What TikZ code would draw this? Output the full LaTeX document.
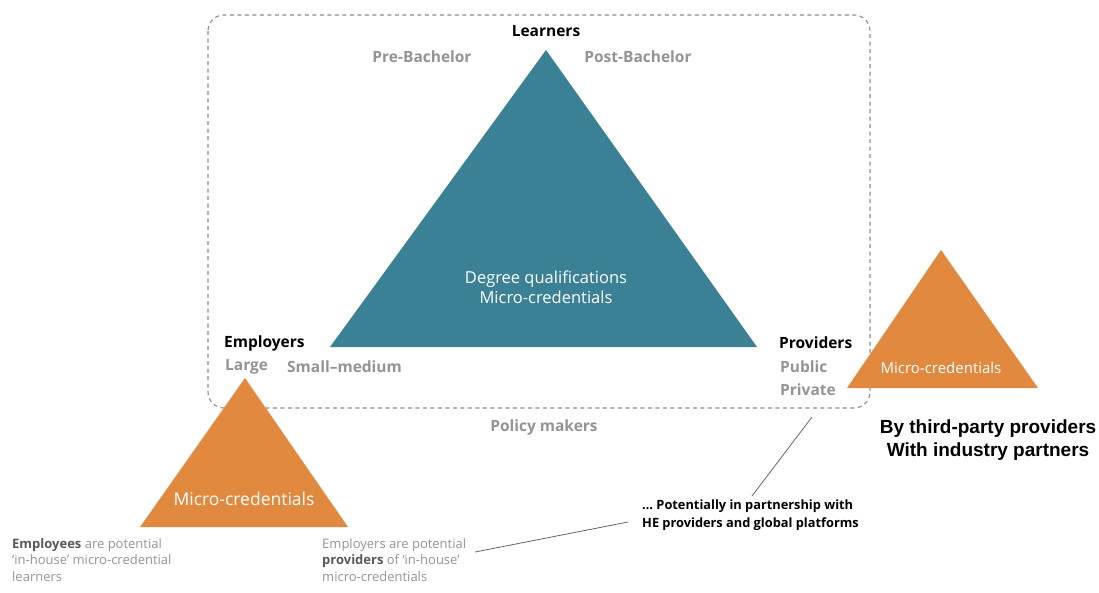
\documentclass[tikz,border=0pt]{standalone}
\usepackage{fontspec}
\setmainfont{Open Sans}
\newfontfamily\arialbold{Liberation Sans}[BoldFont={* Bold}]
\usetikzlibrary{positioning}
\begin{document}
\begin{tikzpicture}[x=1pt,y=-1pt]
% Colors
\colorlet{tealcolor}{rgb,255:red,59;green,129;blue,150}
\colorlet{orangecolor}{rgb,255:red,224;green,137;blue,63}
\colorlet{greytext}{black!42}
\colorlet{boxcolor}{black!45}
% Styles
\tikzstyle{head}=[font=\fontsize{15.5}{18}\selectfont\bfseries,text=black,inner sep=0pt]
\tikzstyle{sub}=[font=\fontsize{15.5}{18}\selectfont\bfseries,text=greytext,inner sep=0pt]
\tikzstyle{inside}=[font=\fontsize{16.5}{20}\selectfont,text=white,align=center,inner sep=0pt]
\tikzstyle{note}=[font=\fontsize{13}{16.5}\selectfont,text=greytext,align=left,inner sep=0pt,anchor=north west]
\tikzstyle{link}=[draw=black!60,line width=0.8pt]
\useasboundingbox (0,0) rectangle (1099,592);
% The frame
\draw[boxcolor,line width=1.1pt,dash pattern=on 4pt off 3.5pt,rounded corners=16pt]
  (208,15) rectangle (870,408);
% The triangles
\fill[tealcolor] (546,50) -- (757,347) -- (330,347) -- cycle;
\fill[orangecolor] (245,378) -- (348,527) -- (140,527) -- cycle;
\fill[orangecolor] (941,250) -- (1038,388) -- (847,388) -- cycle;
% Labels round the big triangle
\node[head] (learners) at (546,31) {Learners};
\node[sub] (prebach) at (422,57) {Pre-Bachelor};
\node[sub] (postbach) at (638,57) {Post-Bachelor};
\node[inside] (degree) at (546,287) {Degree qualifications\\Micro-credentials};
\node[head,anchor=west] (employers) at (224,343) {Employers};
\node[sub,anchor=west] (large) at (225,367) {Large};
\node[sub,anchor=west] (smallmed) at (287,367) {Small--medium};
\node[head,anchor=west] (providers) at (779,343) {Providers};
\node[sub,anchor=west] (public) at (780,367) {Public};
\node[sub,anchor=west] (private) at (780,390) {Private};
\node[sub] (policy) at (544,427) {Policy makers};
% Orange triangles
\node[inside,font=\fontsize{17.5}{20}\selectfont] (leftmc) at (244,499) {Micro-credentials};
\node[inside,font=\fontsize{15}{18}\selectfont] (rightmc) at (941,368) {Micro-credentials};
\node[font=\fontsize{19}{23}\selectfont\arialbold\bfseries,align=center,inner sep=0pt] (thirdparty)
  at (988,440) {By third-party providers\\With industry partners};
% Notes
\node[note] (employees) at (12,538) {\textbf{\color{black!65}Employees} are potential\\`in-house' micro-credential\\learners};
\node[note] (empprov) at (322,538) {Employers are potential\\\textbf{\color{black!65}providers} of `in-house'\\micro-credentials};
\node[font=\fontsize{12.8}{18}\selectfont\bfseries,align=left,inner sep=0pt,anchor=north west] (partner)
  at (642,500) {\dots\ Potentially in partnership with\\HE providers and global platforms};
% Connectors
\coordinate (frameedge) at (812,417);
\coordinate (partnertop) at (752,496);
\coordinate (partnerleft) at (628,522);
\coordinate (empprovright) at (475,552);
\draw[link] (frameedge) -- (partnertop);
\draw[link] (empprovright) -- (partnerleft);
\end{tikzpicture}
\end{document}
